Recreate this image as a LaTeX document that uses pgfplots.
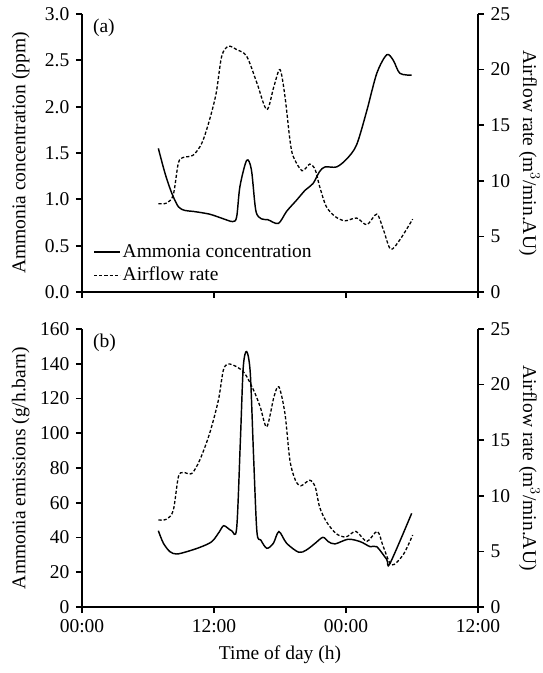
\documentclass[border=0pt]{standalone}
\usepackage{fontspec}
\setmainfont{Liberation Serif}
\usepackage{pgfplots}
\usepackage{pgfplotstable}
\pgfplotsset{compat=1.18}

% ---- data (hours from 00:00 of day 1) ----
\pgfplotstableread{
h v
6.94 1.55
7.55 1.28
8.15 1.07
8.76 0.92
9.36 0.88
10.1 0.87
11.6 0.84
12.85 0.79
13.7 0.76
14.06 0.81
14.36 1.14
14.97 1.42
15.4 1.32
15.8 0.88
16.3 0.79
16.9 0.78
17.85 0.74
18.6 0.87
19.5 0.99
20.3 1.10
21.0 1.17
21.6 1.30
22.1 1.35
23.15 1.35
24.1 1.44
24.97 1.59
25.9 1.96
26.8 2.36
27.7 2.56
28.3 2.50
28.9 2.36
29.97 2.34
}\concA

\pgfplotstableread{
h r
6.94 7.94
7.7 8.0
8.3 8.75
8.76 11.6
9.2 12.1
10.1 12.3
10.9 13.4
11.6 15.5
12.2 17.9
12.7 21.2
13.3 22.1
14.06 21.8
14.97 21.2
15.9 18.8
16.8 16.4
17.45 18.5
18.0 20.0
18.45 17.6
18.9 13.7
19.2 12.2
20.0 10.9
20.7 11.5
21.2 11.0
21.6 9.5
22.2 7.7
23.0 6.8
23.9 6.4
24.97 6.65
25.9 6.05
26.8 7.0
27.4 5.6
28.06 3.85
28.9 4.7
30.06 6.55
}\airA

\pgfplotstableread{
h v
6.94 43.9
7.4 36.7
8.0 31.8
8.6 30.5
9.5 31.8
10.7 34.3
11.8 37.6
12.5 43.4
12.9 46.8
13.6 43.9
14.06 45.3
14.4 96
14.66 138
14.97 147
15.3 134.5
15.6 86.5
15.9 43.4
16.25 38.6
16.8 33.8
17.4 36.7
17.9 43.4
18.6 36.7
19.7 31.5
20.4 32.8
21.2 36.7
21.9 40.1
22.4 37.6
23.0 36.3
24.2 39.0
25.3 37.6
26.2 34.7
26.8 34.7
27.7 27.4
28.0 25.1
29.97 53.9
}\emisB

\pgfplotstableread{
h r
6.94 7.82
7.7 7.9
8.3 8.7
8.76 11.7
9.2 12.1
9.97 12.0
10.7 13.2
11.6 15.6
12.4 18.6
12.85 21.3
13.3 21.85
14.06 21.6
14.8 21.0
15.6 19.5
16.2 18.0
16.8 16.2
17.45 18.9
17.9 19.8
18.45 17.4
18.9 13.2
19.4 11.4
19.9 10.9
20.7 11.4
21.2 10.8
21.6 9.0
22.2 7.7
23.1 6.6
24.0 6.3
24.9 6.8
25.9 5.9
26.85 6.8
27.4 5.4
28.15 3.78
29.2 4.7
30.06 6.47
}\airB

\pgfplotsset{
    panel/.style={
        scale only axis,
        width=396pt, height=278pt,
        xmin=0, xmax=36,
        xtick={0,12,24,36},
        tick align=outside,
        axis line style={line width=1.7pt},
        major tick style={line width=1.7pt, black},
        major tick length=6pt,
        /pgf/number format/assume math mode=true,
    },
    leftside/.style={
        panel,
        axis x line*=bottom, axis y line*=left,
        ylabel style={at={(axis description cs:-0.155,0.5)}, anchor=center},
    },
    rightside/.style={
        panel,
        axis x line=none, axis y line*=right,
        ymin=0, ymax=25, ytick={0,5,10,15,20,25},
        ylabel={Airflow rate (m$^3$/min.AU)},
        ylabel style={at={(axis description cs:1.13,0.5)}, anchor=center, rotate=180},
    },
    solidline/.style={black, line width=1.45pt, smooth, tension=0.5, no marks},
    dashline/.style={black, line width=1.3pt, dash pattern=on 3.2pt off 2pt, smooth, tension=0.5, no marks},
}

\begin{document}
\fontsize{19.5}{23}\selectfont
\begin{tikzpicture}
\useasboundingbox (-82pt,-66pt) rectangle (461pt,607pt);

% === PANEL (a) ===
\begin{axis}[leftside, at={(0pt,315pt)},
    ymin=0, ymax=3, ytick={0,0.5,1,1.5,2,2.5,3},
    yticklabel style={/pgf/number format/.cd, fixed, fixed zerofill, precision=1},
    xticklabels={},
    ylabel={Ammonia concentration (ppm)},
    legend style={at={(rel axis cs:0.028,0.022)}, anchor=south west, draw=none, fill=none, inner sep=0pt, row sep=3pt},
    legend cell align=left,
    legend image code/.code={\draw[#1] (0pt,0pt) -- (26pt,0pt);},
]
\addplot[solidline] table[x=h, y=v] {\concA};
\addlegendentry{Ammonia concentration}
\addlegendimage{black, line width=1.3pt, dash pattern=on 3.2pt off 2pt}
\addlegendentry{Airflow rate}
\node[anchor=north west, inner sep=1pt] at (rel axis cs:0.025,0.985) {(a)};
\end{axis}
\begin{axis}[rightside, at={(0pt,315pt)}]
\addplot[dashline] table[x=h, y=r] {\airA};
\end{axis}

% === PANEL (b) ===
\begin{axis}[leftside, at={(0pt,0pt)},
    ymin=0, ymax=160, ytick={0,20,...,160},
    xticklabels={00:00,12:00,00:00,12:00},
    ylabel={Ammonia emissions (g/h.barn)},
    xlabel={Time of day (h)},
    xlabel style={at={(axis description cs:0.5,-0.172)}, anchor=center},
]
\addplot[solidline] table[x=h, y=v] {\emisB};
\node[anchor=north west, inner sep=1pt] at (rel axis cs:0.025,0.985) {(b)};
\end{axis}
\begin{axis}[rightside, at={(0pt,0pt)}]
\addplot[dashline] table[x=h, y=r] {\airB};
\end{axis}
\end{tikzpicture}
\end{document}
